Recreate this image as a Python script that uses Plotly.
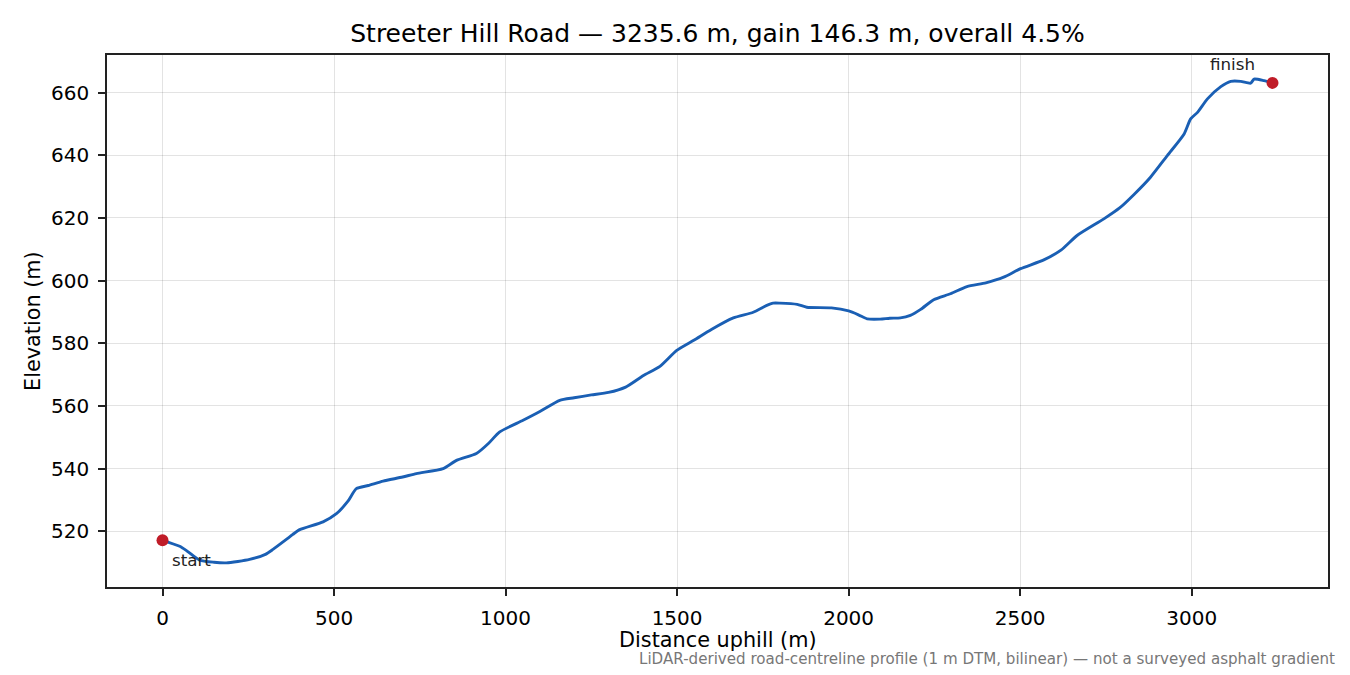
import plotly.graph_objects as go

# Elevation profile
distance_m = [0, 50, 69, 108, 150, 186, 254, 300, 322, 360, 380, 400, 468, 507, 540,
              565, 600, 643, 700, 740, 818, 857, 915, 950, 983, 1051, 1100, 1158, 1200,
              1250, 1300, 1350, 1402, 1450, 1499, 1550, 1600, 1664, 1722, 1760, 1780,
              1800, 1850, 1878, 1950, 2000, 2030, 2054, 2092, 2120, 2151, 2180, 2210,
              2248, 2297, 2345, 2400, 2452, 2501, 2569, 2620, 2666, 2744, 2790, 2832,
              2880, 2929, 2978, 2997, 3017, 3046, 3085, 3114, 3143, 3172, 3182, 3211,
              3235.6]
elevation_m = [517.1, 515.2, 513.9, 510.8, 510.1, 509.9, 511.0, 512.6, 514.2, 517.3,
               519.0, 520.5, 523.0, 525.6, 529.5, 533.6, 534.6, 536.0, 537.3, 538.4,
               540.0, 542.6, 544.8, 548.0, 551.7, 555.4, 558.2, 561.8, 562.6, 563.5,
               564.3, 566.0, 569.7, 572.6, 577.7, 581.0, 584.4, 588.1, 589.9, 592.0,
               592.8, 592.8, 592.4, 591.5, 591.3, 590.3, 589.0, 587.8, 587.7, 588.0,
               588.1, 588.9, 590.8, 593.9, 595.8, 598.1, 599.3, 601.1, 603.8, 606.6,
               609.8, 614.4, 619.7, 623.2, 627.5, 633.0, 639.9, 646.8, 651.6, 653.7,
               658.0, 661.9, 663.6, 663.6, 663.0, 664.3, 663.8, 663.1]

title = "Streeter Hill Road — 3235.6 m, gain 146.3 m, overall 4.5%"
x_title = "Distance uphill (m)"
y_title = "Elevation (m)"
caption = "LiDAR-derived road-centreline profile (1 m DTM, bilinear) — not a surveyed asphalt gradient"

line_blue = "#1a5fb4"
dot_red = "#c01c28"
font = "DejaVu Sans"

fig = go.Figure()
fig.add_trace(go.Scatter(x=distance_m, y=elevation_m, mode="lines",
                         line=dict(color=line_blue, width=2.9, shape="spline", smoothing=0.6),
                         showlegend=False))
fig.add_trace(go.Scatter(x=[distance_m[0], distance_m[-1]], y=[elevation_m[0], elevation_m[-1]],
                         mode="markers", marker=dict(color=dot_red, size=12),
                         showlegend=False))

# point labels
fig.add_annotation(x=distance_m[0], y=elevation_m[0], text="start", showarrow=False,
                   xanchor="left", yanchor="middle", xshift=7, yshift=-20,
                   font=dict(size=16.7, color="#222"))
fig.add_annotation(x=distance_m[-1], y=elevation_m[-1], text="finish", showarrow=False,
                   xanchor="center", yanchor="middle", xshift=-40, yshift=19,
                   font=dict(size=16.7, color="#222"))

# axis titles and caption, placed like the matplotlib original
fig.add_annotation(xref="paper", yref="paper", x=0.5, y=0, text=x_title, showarrow=False,
                   xanchor="center", yanchor="middle", yshift=-53,
                   font=dict(size=20.8, color="black"))
fig.add_annotation(xref="paper", yref="paper", x=0, y=0.5, text=y_title, showarrow=False,
                   textangle=-90, xanchor="center", yanchor="middle", xshift=-74,
                   font=dict(size=20.8, color="black"))
fig.add_annotation(xref="paper", yref="paper", x=1, y=0, text=caption, showarrow=False,
                   xanchor="right", yanchor="middle", xshift=9, yshift=-72,
                   font=dict(size=15.1, color="#777"))

axis_common = dict(showline=True, linecolor="#222", linewidth=1.6, mirror=True,
                   ticks="outside", ticklen=7, tickwidth=1.6, tickcolor="#222",
                   ticklabelstandoff=5,
                   showgrid=True, gridcolor="rgba(0,0,0,0.11)", gridwidth=1.3,
                   zeroline=False, tickfont=dict(size=20, color="black"))

fig.update_xaxes(range=[-161.8, 3397.4], tick0=0, dtick=500, **axis_common)
fig.update_yaxes(range=[502.2, 672.0], tick0=0, dtick=20, **axis_common)

# page body adds an 8 px margin, so the figure is 8 px smaller than the window
fig.update_layout(
    width=1342, height=667,
    margin=dict(l=99, r=22, t=47, b=88),
    paper_bgcolor="white", plot_bgcolor="white",
    font=dict(family=font, color="black"),
    title=dict(text=title, x=0.5, xref="paper", xanchor="center",
               y=1 - 25 / 667, yanchor="middle",
               font=dict(size=25, color="black")),
)

fig.write_html("out.html")
